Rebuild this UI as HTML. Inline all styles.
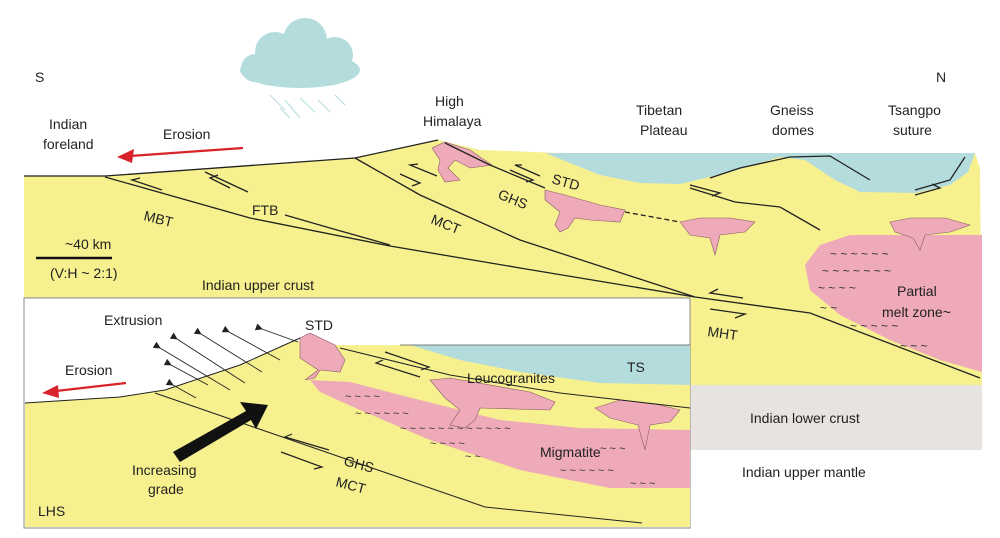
<!DOCTYPE html>
<html><head><meta charset="utf-8"><style>
html,body{margin:0;padding:0;background:#fff;}
svg{display:block}
text{font-family:"Liberation Sans",sans-serif;font-size:14px;fill:#222}
</style></head><body>
<svg width="1000" height="538" viewBox="0 0 1000 538" xmlns="http://www.w3.org/2000/svg">
<defs>
<marker id="ah" markerWidth="8" markerHeight="8" refX="1" refY="4" orient="auto"><path d="M8,0 L0,4 L8,8 z" fill="#222"/></marker>
</defs>
<path d="M24,176 L105,176 L355,158 L438,140 L480,150 L560,153 L975,153 L980,168 L982,385 L24,385 Z" fill="#f6f08e"/>
<rect x="690" y="385" width="292" height="65" fill="#e6e3e1"/>
<path d="M545,153 L975,153 L968,172 L950,185 L915,193 L860,192 L835,180 L805,160 L780,157 L730,172 L680,184 L640,183 L600,175 Z" fill="#b5dcdc"/>
<path d="M850,235 L982,235 L982,372 L940,360 L890,340 L840,315 L810,290 L805,265 L820,245 Z" fill="#eeaab8"/>
<g>
<text x="830" y="258" style="font-size:12px;fill:#333">~ ~ ~ ~ ~ ~</text>
<text x="822" y="275" style="font-size:12px;fill:#333">~ ~ ~ ~ ~ ~ ~</text>
<text x="818" y="292" style="font-size:12px;fill:#333">~ ~ ~ ~</text>
<text x="820" y="312" style="font-size:12px;fill:#333">~ ~</text>
<text x="850" y="330" style="font-size:12px;fill:#333">~ ~ ~ ~ ~</text>
<text x="900" y="350" style="font-size:12px;fill:#333">~ ~ ~</text>
</g>
<path d="M432,148 L445,142 L470,150 L492,165 L470,168 L455,160 L448,168 L460,180 L445,182 L438,170 L440,160 Z" fill="#eeaab8" stroke="#8a5a66" stroke-width="0.6"/>
<path d="M545,190 L565,195 L600,205 L625,210 L620,222 L590,220 L575,218 L568,228 L560,232 L555,225 L560,212 L545,200 Z" fill="#eeaab8" stroke="#8a5a66" stroke-width="0.6"/>
<path d="M680,222 L700,218 L730,218 L755,222 L745,232 L720,235 L715,255 L710,238 L690,235 Z" fill="#eeaab8" stroke="#8a5a66" stroke-width="0.6"/>
<path d="M890,222 L910,218 L945,218 L970,225 L950,232 L925,235 L920,250 L913,238 L895,232 Z" fill="#eeaab8" stroke="#8a5a66" stroke-width="0.6"/>
<g fill="none" stroke="#222" stroke-width="1.3">
<path d="M24,176 L105,176 L355,158 L438,140"/>
<path d="M105,177 L250,218 L390,246 L520,268 L695,297 L810,313 L980,378"/>
<path d="M205,172 L248,192"/>
<path d="M285,215 L330,228 L390,245"/>
<path d="M355,158 L420,195 L520,240 L695,297"/>
<path d="M445,143 L490,165 L545,188"/>
<path d="M625,212 L680,222" stroke-dasharray="5,3"/>
<path d="M690,188 L735,202 L780,207 L820,230"/>
<path d="M710,178 L740,168 L790,157 L830,156 L870,180"/>
<path d="M965,157 L950,180 L915,190"/>
<path d="M162,190 L132,180 L140,178"/><path d="M230,188 L210,178 L218,175"/>
<path d="M437,176 L410,165 L418,164"/><path d="M400,174 L420,183 L412,186"/>
<path d="M540,176 L515,165 L522,165"/><path d="M510,170 L533,180 L526,182"/>
<path d="M743,298 L710,293 L718,289"/><path d="M710,309 L745,314 L735,318"/>
<path d="M690,185 L720,193 L712,196"/>
<path d="M915,195 L940,188 L932,184"/>
</g>
<text x="35" y="82">S</text>
<text x="936" y="82">N</text>
<text x="49" y="129">Indian</text><text x="43" y="149">foreland</text>
<text x="163" y="139">Erosion</text>
<text x="435" y="106">High</text><text x="423" y="126">Himalaya</text>
<text x="636" y="115">Tibetan</text><text x="640" y="135">Plateau</text>
<text x="770" y="115">Gneiss</text><text x="772" y="135">domes</text>
<text x="888" y="115">Tsangpo</text><text x="893" y="135">suture</text>
<text x="143" y="220" transform="rotate(14 143 220)">MBT</text>
<text x="252" y="215">FTB</text>
<text x="430" y="223" transform="rotate(22 430 223)">MCT</text>
<text x="497" y="198" transform="rotate(22 497 198)">GHS</text>
<text x="551" y="183" transform="rotate(16 551 183)">STD</text>
<text x="65" y="249">~40 km</text>
<line x1="36" y1="258" x2="112" y2="258" stroke="#111" stroke-width="2.5"/>
<text x="50" y="278">(V:H ~ 2:1)</text>
<text x="202" y="290">Indian upper crust</text>
<text x="897" y="296">Partial</text><text x="882" y="317">melt zone~</text>
<text x="707" y="336" transform="rotate(8 707 336)">MHT</text>
<text x="750" y="423">Indian lower crust</text>
<text x="742" y="477">Indian upper mantle</text>
<line x1="243" y1="148" x2="130" y2="156" stroke="#d8232a" stroke-width="2.2"/>
<path d="M117,157 L134,149 L132,163 Z" fill="#d8232a"/>
<g fill="#b5dcdc">
<ellipse cx="300" cy="70" rx="60" ry="18"/><circle cx="275" cy="52" r="20"/><circle cx="305" cy="40" r="22"/><circle cx="335" cy="55" r="18"/><circle cx="255" cy="68" r="14"/>
</g>
<g stroke="#b5dcdc" stroke-width="1">
<line x1="270" y1="95" x2="285" y2="110"/><line x1="285" y1="100" x2="300" y2="118"/><line x1="300" y1="98" x2="315" y2="112"/><line x1="318" y1="100" x2="330" y2="112"/><line x1="335" y1="95" x2="345" y2="105"/><line x1="280" y1="108" x2="290" y2="118"/>
</g>
<!-- inset -->
<rect x="24" y="298" width="666" height="230" fill="#fff" stroke="#888" stroke-width="1"/>
<path d="M25,403 L120,397 L165,390 L240,365 L295,340 L310,345 L690,345 L690,527 L25,527 Z" fill="#f6f08e"/>
<path d="M410,345 L690,345 L690,385 L600,383 L520,372 L460,360 Z" fill="#b5dcdc"/>
<line x1="400" y1="345" x2="690" y2="345" stroke="#555" stroke-width="0.8"/>
<path d="M310,380 L350,382 L420,400 L500,420 L580,428 L690,430 L690,488 L610,488 L520,470 L430,440 L360,410 L320,392 Z" fill="#eeaab8"/>
<g>
<text x="345" y="400" style="font-size:11px;fill:#333">~ ~ ~ ~</text>
<text x="355" y="417" style="font-size:11px;fill:#333">~ ~ ~ ~ ~ ~</text>
<text x="400" y="432" style="font-size:11px;fill:#333">~ ~ ~ ~ ~ ~ ~ ~ ~ ~ ~ ~</text>
<text x="430" y="447" style="font-size:11px;fill:#333">~ ~ ~ ~</text>
<text x="465" y="460" style="font-size:11px;fill:#333">~ ~</text>
<text x="600" y="452" style="font-size:11px;fill:#333">~ ~ ~</text>
<text x="560" y="474" style="font-size:11px;fill:#333">~ ~ ~ ~ ~ ~</text>
<text x="630" y="487" style="font-size:11px;fill:#333">~ ~ ~</text>
</g>
<path d="M300,338 L310,333 L335,345 L345,360 L340,372 L320,370 L315,378 L305,380 L318,370 L300,358 Z" fill="#eeaab8" stroke="#8a5a66" stroke-width="0.6"/>
<path d="M430,380 L450,378 L530,392 L555,402 L550,410 L480,408 L475,420 L465,428 L450,425 L460,410 L445,398 Z" fill="#eeaab8" stroke="#8a5a66" stroke-width="0.6"/>
<path d="M595,408 L620,400 L660,405 L680,410 L670,422 L650,425 L645,450 L638,425 L610,418 Z" fill="#eeaab8" stroke="#8a5a66" stroke-width="0.6"/>
<g fill="none" stroke="#222" stroke-width="1">
<path d="M25,403 L120,397 L165,390 L240,365 L300,338"/>
<path d="M340,348 L450,375 L560,393 L690,408"/>
<path d="M155,393 L485,507 L642,523"/>
<path d="M385,352 L429,367 L421,370" stroke-width="1.2"/><path d="M420,377 L376,363 L383,360" stroke-width="1.2"/>
<path d="M329,450 L285,437 L292,434" stroke-width="1.2"/><path d="M281,452 L322,467 L314,469" stroke-width="1.2"/>
</g>
<g stroke="#222" stroke-width="0.9" marker-end="url(#ah)">
<line x1="298" y1="342" x2="262" y2="329"/>
<line x1="280" y1="360" x2="229" y2="332"/>
<line x1="262" y1="372" x2="201" y2="334"/>
<line x1="245" y1="383" x2="177" y2="339"/>
<line x1="230" y1="390" x2="160" y2="348"/>
<line x1="208" y1="385" x2="171" y2="365"/>
<line x1="196" y1="398" x2="173" y2="385"/>
</g>
<polygon points="173,452 246,411 240,402 268,405 256,429 251,420 180,462" fill="#111"/>
<line x1="126" y1="383" x2="56" y2="391" stroke="#d8232a" stroke-width="2.2"/>
<path d="M42,393 L58,385 L59,398 Z" fill="#d8232a"/>
<text x="104" y="325">Extrusion</text>
<text x="305" y="330">STD</text>
<text x="65" y="375">Erosion</text>
<text x="627" y="372">TS</text>
<text x="467" y="383">Leucogranites</text>
<text x="540" y="457">Migmatite</text>
<text x="132" y="475">Increasing</text><text x="148" y="494">grade</text>
<text x="343" y="465" transform="rotate(15 343 465)">GHS</text>
<text x="335" y="486" transform="rotate(15 335 486)">MCT</text>
<text x="38" y="516">LHS</text>
</svg>
</body></html>
